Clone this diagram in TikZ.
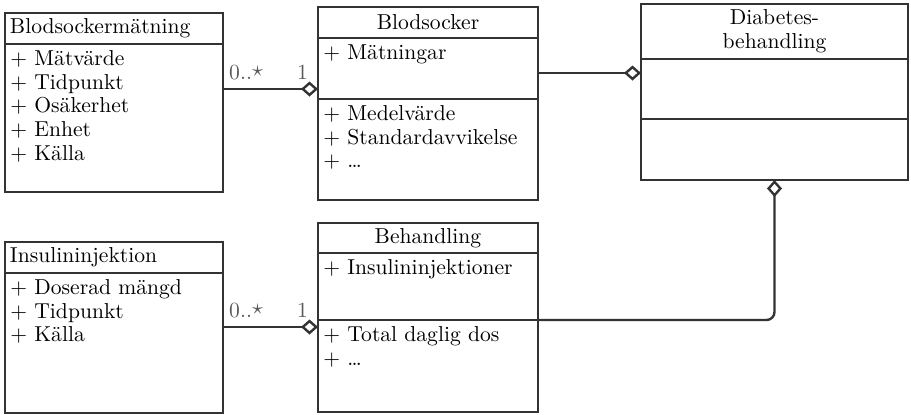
\documentclass[tikz,border=0pt]{standalone}
\usetikzlibrary{arrows.meta,positioning}

\begin{document}
\begin{tikzpicture}[
    x=0.5pt, y=-0.5pt,
    font=\fontsize{10.8}{11.85}\selectfont,
    classbox/.style={draw=black!80, line width=1.2pt, fill=white, inner sep=0pt, outer sep=0pt, text=black},
    headleft/.style={classbox, inner xsep=2.5pt, align=left},
    headmid/.style={classbox, align=center},
    attrtext/.style={anchor=north west, align=left, inner xsep=2.5pt, inner ysep=3pt, text=black},
    mult/.style={text=black!65, inner sep=1pt},
    aggr/.style={draw=black!80, line width=1.2pt, -{Diamond[open, length=8.5pt, width=7.5pt]}}
]
    \useasboundingbox (0,0) rectangle (911,414);

    % Blodsockermaetning
    \node[headleft, minimum width=109pt, minimum height=15.5pt, text width=104pt, anchor=north west] (bsm_head) at (5,13) {Blodsockermätning};
    \node[classbox, minimum width=109pt, minimum height=74pt, below=0pt of bsm_head] (bsm_attr) {};
    \node[attrtext] (bsm_list) at (bsm_attr.north west) {+ Mätvärde\\+ Tidpunkt\\+ Osäkerhet\\+ Enhet\\+ Källa};

    % Blodsocker
    \node[headmid, minimum width=110pt, minimum height=15.5pt, anchor=north west] (bs_head) at (318,7) {Blodsocker};
    \node[classbox, minimum width=110pt, minimum height=30.5pt, below=0pt of bs_head] (bs_attr) {};
    \node[classbox, minimum width=110pt, minimum height=50.5pt, below=0pt of bs_attr] (bs_ops) {};
    \node[attrtext] (bs_list) at (bs_attr.north west) {+ Mätningar};
    \node[attrtext] (bs_oplist) at (bs_ops.north west) {+ Medelvärde\\+ Standardavvikelse\\+ \dots};

    % Diabetesbehandling
    \node[headmid, minimum width=133.5pt, minimum height=27.5pt, anchor=north west] (db_head) at (641,4) {Diabetes-\\behandling};
    \node[classbox, minimum width=133.5pt, minimum height=30pt, below=0pt of db_head] (db_attr) {};
    \node[classbox, minimum width=133.5pt, minimum height=30.5pt, below=0pt of db_attr] (db_ops) {};

    % Insulininjektion
    \node[headleft, minimum width=109pt, minimum height=15.5pt, text width=104pt, anchor=north west] (ins_head) at (5,242) {Insulininjektion};
    \node[classbox, minimum width=109pt, minimum height=70pt, below=0pt of ins_head] (ins_attr) {};
    \node[attrtext] (ins_list) at (ins_attr.north west) {+ Doserad mängd\\+ Tidpunkt\\+ Källa};

    % Behandling
    \node[headmid, minimum width=110pt, minimum height=15pt, anchor=north west] (beh_head) at (318,223) {Behandling};
    \node[classbox, minimum width=110pt, minimum height=33.5pt, below=0pt of beh_head] (beh_attr) {};
    \node[classbox, minimum width=110pt, minimum height=46pt, below=0pt of beh_attr] (beh_ops) {};
    \node[attrtext] (beh_list) at (beh_attr.north west) {+ Insulininjektioner};
    \node[attrtext] (beh_oplist) at (beh_ops.north west) {+ Total daglig dos\\+ \dots};

    % aggregationer
    \draw[aggr] ([yshift=14.5pt]bsm_attr.east) -- ([yshift=-10.25pt]bs_attr.west)
        node[mult, pos=0, anchor=south west, xshift=1.5pt, yshift=3pt] {0..\raisebox{0.3ex}{$\star$}}
        node[mult, pos=1, anchor=south east, xshift=-3.5pt, yshift=3pt] {1};
    \draw[aggr] ([yshift=-2.25pt]bs_attr.east) -- ([yshift=8pt]db_attr.west);
    \draw[aggr, rounded corners=4pt] (beh_attr.south east) -| (db_ops.south);
    \draw[aggr] ([yshift=8pt]ins_attr.east) -- ([yshift=19.5pt]beh_ops.west)
        node[mult, pos=0, anchor=south west, xshift=1.5pt, yshift=3pt] {0..\raisebox{0.3ex}{$\star$}}
        node[mult, pos=1, anchor=south east, xshift=-3.5pt, yshift=3pt] {1};

\end{tikzpicture}
\end{document}
